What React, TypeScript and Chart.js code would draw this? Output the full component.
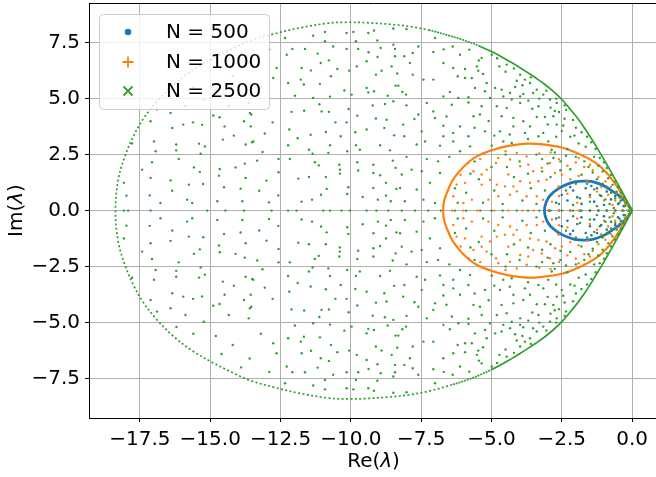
import React, { useEffect, useRef } from 'react';
import { Chart, registerables } from 'chart.js';
Chart.register(...registerables);

const FONT = '"DejaVu Sans", sans-serif';
const FS = 20;

const legendLabels = ['N = 500', 'N = 1000', 'N = 2500'];
const colors = ['#1f77b4', '#ff7f0e', '#2ca02c'];
const xTicks = [-17.5, -15.0, -12.5, -10.0, -7.5, -5.0, -2.5, 0.0];
const yTicks = [-7.5, -5.0, -2.5, 0.0, 2.5, 5.0, 7.5];
const xRange = [-19.31, 0.92];
const yRange = [-9.26, 9.27];

// boundary curves (upper half tip -> left, lower half left -> tip)
const greenEdgeUpper = [[0,0],[-0.15,0.36],[-0.31,0.74],[-0.48,1.12],[-0.66,1.53],[-0.9,2.06],[-1.14,2.58],[-1.43,3.18],[-1.73,3.76],[-2.0,4.22],[-2.25,4.6],[-2.5,4.96],[-2.8,5.32],[-3.1,5.63],[-3.4,5.9],[-3.7,6.15],[-4.0,6.39],[-4.3,6.62],[-4.6,6.84],[-5.0,7.1],[-5.4,7.33],[-5.76,7.51],[-6.1,7.66],[-6.47,7.8],[-7.19,8.05],[-7.9,8.22],[-8.61,8.32],[-9.44,8.39],[-10.15,8.41],[-10.8,8.37],[-11.81,8.16],[-12.76,7.88],[-13.59,7.58],[-14.18,7.25],[-14.89,6.8],[-15.61,6.28],[-16.32,5.6],[-16.91,4.85],[-17.38,4.1],[-17.74,3.3],[-18.04,2.4],[-18.27,1.4],[-18.37,0]];
const greenEdgeLower = [[-18.27,-1.4],[-18.04,-2.4],[-17.74,-3.3],[-17.38,-4.1],[-16.91,-4.85],[-16.32,-5.6],[-15.61,-6.28],[-14.89,-6.8],[-14.18,-7.25],[-13.59,-7.58],[-12.76,-7.88],[-11.81,-8.16],[-10.8,-8.37],[-10.15,-8.41],[-9.44,-8.39],[-8.61,-8.32],[-7.9,-8.22],[-7.19,-8.05],[-6.47,-7.8],[-6.1,-7.66],[-5.76,-7.51],[-5.4,-7.33],[-5.0,-7.1],[-4.6,-6.84],[-4.3,-6.62],[-4.0,-6.39],[-3.7,-6.15],[-3.4,-5.9],[-3.1,-5.63],[-2.8,-5.32],[-2.5,-4.96],[-2.25,-4.6],[-2.0,-4.22],[-1.73,-3.76],[-1.43,-3.18],[-1.14,-2.58],[-0.9,-2.06],[-0.66,-1.53],[-0.48,-1.12],[-0.31,-0.74],[-0.15,-0.36],[0,0]];
const orangeEdgeUpper = [[0,0],[-0.25,0.49],[-0.54,1.08],[-0.9,1.68],[-1.26,2.1],[-1.8,2.48],[-2.5,2.82],[-3.27,2.97],[-3.75,2.99],[-4.34,2.9],[-4.93,2.72],[-5.53,2.42],[-6.0,1.95],[-6.36,1.4],[-6.54,0.94],[-6.68,0.45],[-6.72,0]];
const orangeEdgeLower = [[-6.68,-0.45],[-6.54,-0.94],[-6.36,-1.4],[-6.0,-1.95],[-5.53,-2.42],[-4.93,-2.72],[-4.34,-2.9],[-3.75,-2.99],[-3.27,-2.97],[-2.5,-2.82],[-1.8,-2.48],[-1.26,-2.1],[-0.9,-1.68],[-0.54,-1.08],[-0.25,-0.49],[0,0]];
const blueEdgeUpper = [[0,0],[-0.25,0.42],[-0.5,0.7],[-0.72,0.88],[-0.9,1.04],[-1.14,1.18],[-1.45,1.3],[-1.73,1.32],[-2.05,1.28],[-2.32,1.17],[-2.62,0.98],[-2.9,0.7],[-3.05,0.4],[-3.12,0]];
const blueEdgeLower = [[-3.05,-0.4],[-2.9,-0.7],[-2.62,-0.98],[-2.32,-1.17],[-2.05,-1.28],[-1.73,-1.32],[-1.45,-1.3],[-1.14,-1.18],[-0.9,-1.04],[-0.72,-0.88],[-0.5,-0.7],[-0.25,-0.42],[0,0]];

// real eigenvalues (on the axis)
const greenReal = [-18.07,-17.92,-17.12,-15.11,-14.46,-13.8,-12.82,-12.23,-11.93,-10.98,-10.74,-10.33,-10.03,-9.44,-9.09,-8.67,-8.19,-7.72,-7.25,-6.8,-6.3,-5.9,-5.4,-5.0,-4.6,-4.1,-3.7,-3.3,-2.9,-2.5,-2.1,-1.8,-1.5,-1.2,-0.9,-0.6,-0.3,-0.1];
const orangeReal = [-6.4,-6.0,-5.5,-4.9,-4.4,-3.9,-3.5,-3.0,-2.6,-2.2,-1.9,-1.5,-1.2,-0.9,-0.6,-0.35,-0.15];
const blueReal = [-2.95,-2.6,-2.2,-1.85,-1.5,-1.2,-0.9,-0.6,-0.35,-0.15];

// interior eigenvalues, upper half
const greenInnerUpper = [[-16.89,4.51],[-16.41,4.36],[-17.12,3.99],[-16.35,3.69],[-15.96,3.84],[-15.61,3.94],[-15.29,3.83],[-14.89,4.25],[-14.67,4.17],[-14.49,3.76],[-13.54,4.29],[-13.8,3.99],[-13.56,3.76],[-17.78,3.0],[-17.0,3.09],[-16.21,2.95],[-15.4,2.99],[-15.19,2.86],[-14.55,3.17],[-14.16,3.35],[-13.74,2.95],[-13.51,3.05],[-16.94,2.65],[-16.21,2.69],[-15.34,2.54],[-17.42,1.83],[-17.07,2.16],[-16.12,2.31],[-15.58,1.93],[-15.37,1.73],[-14.66,1.86],[-14.69,1.56],[-14.51,1.04],[-14.1,1.93],[-13.77,2.1],[-13.74,1.46],[-18.07,1.24],[-17.12,1.46],[-16.41,1.35],[-15.76,1.16],[-15.25,1.19],[-16.35,0.89],[-17.98,0.67],[-17.15,0.68],[-16.77,0.34],[-15.82,0.49],[-15.64,0.34],[-14.75,0.42],[-13.86,0.42],[-13.92,0.98],[-15.88,4.66],[-15.23,4.96],[-14.34,4.66],[-13.63,4.81],[-14.2,6.0],[-13.6,6.6],[-14.8,5.6],[-13.2,5.5],[-12.9,7.2],[-15.6,5.5],[-16.2,5.2],[-13.9,7.0],[-14.6,6.4],
[-12.34,7.71],[-11.34,7.81],[-10.92,7.98],[-10.92,7.56],[-10.15,7.93],[-9.91,7.98],[-9.82,7.56],[-9.38,7.93],[-9.18,8.04],[-9.06,7.6],[-8.49,8.13],[-8.49,7.41],[-8.02,8.11],[-12.08,7.22],[-11.63,7.22],[-11.18,7.01],[-10.63,7.33],[-10.15,7.22],[-9.74,7.22],[-9.37,7.07],[-8.94,7.26],[-8.43,7.22],[-8.1,6.89],[-7.8,7.04],[-12.28,6.96],[-11.07,6.59],[-10.78,6.71],[-10.06,6.25],[-9.79,6.44],[-9.44,6.67],[-9.05,6.86],[-8.43,6.89],[-12.64,6.37],[-11.75,6.37],[-11.42,6.26],[-10.48,6.32],[-10.71,6.0],[-12.76,5.92],[-12.23,5.7],[-11.78,5.85],[-11.67,5.63],[-11.1,5.66],[-10.23,5.36],[-9.44,5.48],[-9.11,6.07],[-8.91,6.25],[-8.55,6.44],[-8.35,6.12],[-7.8,6.07],[-8.41,5.58],[-8.31,5.58],[-8.17,5.3],[-11.99,5.13],[-11.34,5.03],[-10.74,5.09],[-9.97,5.18],[-9.38,5.28],[-9.18,5.33],[-8.69,5.13],[-8.04,5.18],[-13.59,4.36],[-12.78,3.94],[-12.11,4.41],[-11.66,4.46],[-11.12,4.75],[-11.04,4.43],[-10.78,4.41],[-10.08,4.54],[-10.55,3.94],[-10.15,3.94],[-9.77,4.24],[-9.22,4.69],[-8.79,4.76],[-8.49,4.88],[-8.02,4.7],[-9.11,4.11],[-8.73,4.06],[-8.14,3.84],[-7.74,4.09],[-12.19,3.62],[-11.89,3.23],[-11.43,3.39],[-10.89,3.51],[-10.36,3.32],[-9.84,3.5],[-9.44,3.62],[-8.81,3.69],[-8.46,3.36],[-8.1,3.32],[-13.06,3.44],[-13.47,3.09],[-13.14,2.62],[-12.23,2.92],[-11.49,2.72],[-11.36,2.54],[-10.74,2.92],[-10.8,2.58],[-10.13,2.65],[-9.82,2.92],[-9.68,2.72],[-8.96,2.92],[-8.61,2.69],[-12.57,2.31],[-12.17,2.31],[-11.28,2.16],[-11.14,2.02],[-10.41,2.05],[-10.39,1.83],[-9.77,2.16],[-9.2,2.05],[-8.51,2.23],[-8.02,2.4],[-13.33,2.23],[-12.57,1.71],[-13.0,1.34],[-11.87,1.43],[-11.49,1.5],[-10.89,1.5],[-10.39,1.65],[-10.09,1.04],[-10.13,0.74],[-9.74,1.79],[-9.2,1.68],[-8.96,1.58],[-8.75,1.24],[-8.41,1.91],[-8.19,1.61],[-8.38,0.97],[-13.26,0.89],[-12.58,0.68],[-11.75,0.4],[-11.38,0.49],[-10.86,0.97],[-11.06,0.71],[-9.58,0.61],[-9.2,1.01],[-9.04,0.49],[-8.75,0.67],[-8.25,1.01],[-8.08,0.42],[-12.91,0.37],[-8.58,0.42],
[-7.01,7.71],[-7.6,7.33],[-7.07,7.08],[-6.38,7.33],[-6.12,6.96],[-5.79,7.19],[-5.52,6.44],[-5.35,6.82],[-4.99,6.96],[-6.71,6.59],[-6.36,6.37],[-5.94,6.32],[-5.47,6.25],[-4.72,6.44],[-4.46,6.52],[-3.98,6.07],[-3.81,5.85],[-3.63,5.7],[-3.39,5.4],[-3.16,5.18],[-7.9,6.59],[-7.42,5.85],[-7.07,5.85],[-6.48,5.3],[-5.94,5.92],[-5.7,5.92],[-5.17,5.7],[-5.59,5.48],[-5.23,5.33],[-4.87,5.48],[-4.64,5.4],[-4.34,5.25],[-4.16,5.52],[-3.87,5.21],[-3.52,5.25],[-6.71,5.1],[-6.18,5.03],[-5.82,5.06],[-5.05,5.03],[-4.58,5.1],[-4.28,4.96],[-3.98,5.1],[-3.69,4.91],[-2.92,4.96],[-2.68,4.81],[-7.3,4.81],[-7.07,4.43],[-6.41,4.73],[-5.82,4.83],[-5.35,4.66],[-4.81,4.66],[-4.46,4.58],[-3.98,4.81],[-3.33,4.66],[-7.6,4.29],[-7.01,4.14],[-6.71,3.79],[-6.12,3.76],[-5.64,4.21],[-5.41,4.29],[-4.64,4.21],[-4.22,4.14],[-3.87,3.99],[-3.63,3.76],[-3.39,4.18],[-3.1,4.18],[-2.8,4.21],[-2.68,3.84],[-7.48,3.54],[-7.36,3.09],[-6.71,3.32],[-6.36,3.47],[-5.82,3.32],[-5.23,3.54],[-4.7,3.54],[-4.22,3.76],[-3.81,3.47],[-3.33,3.32],[-3.16,3.47],[-2.98,3.09],[-7.66,2.95],[-6.83,2.9],[-6.36,3.09],[-6.12,2.65],[-5.76,2.87],[-4.99,2.9],[-4.58,3.09],[-4.28,3.02],[-2.86,2.72],[-7.84,1.83],[-7.48,1.76],[-7.66,0.94],[-7.19,1.24],[-7.42,0.49],[-7.01,0.34],[-6.83,1.68],[-7.3,2.3],
[-5.6,2.2],[-5.0,1.95],[-4.5,2.5],[-4.0,2.2],[-3.4,2.5],[-4.9,0.9],[-4.2,1.5],[-3.6,1.0],[-3.2,1.75],[-5.9,0.8],[-6.2,0.35],[-5.3,0.35],[-4.6,0.3],[-3.9,0.45],[-3.1,0.9],[-2.8,2.35],[-5.45,1.4],[-6.3,1.0],[-4.45,1.95],[-3.7,1.65],[-2.9,1.5],[-2.6,0.3],[-3.4,0.3],[-5.75,1.65],
[-2.35,4.5],[-2.1,4.05],[-2.0,3.7],[-1.8,3.5],[-1.6,3.3],[-1.45,3.05],[-1.3,2.75],[-1.15,2.35],[-1.0,2.15],[-0.9,1.9],[-0.75,1.6],[-0.6,1.3],[-0.5,1.05],[-0.4,0.8],[-0.3,0.55],[-0.2,0.35],[-0.1,0.15],[-2.6,4.4],[-2.2,3.3],[-1.9,3.0],[-1.65,2.85],[-1.35,2.4],[-1.2,2.0],[-1.05,1.75],[-0.85,1.45],[-0.7,1.15],[-0.55,0.85],[-0.45,0.6],[-0.25,0.2],[-2.9,4.6],[-2.45,3.8],[-2.7,3.3],[-2.3,2.75],[-2.0,2.4],[-1.7,2.2],[-1.55,1.95],[-1.4,1.7],[-1.25,1.4],[-1.05,1.2],[-0.9,1.0],[-0.75,0.8],[-0.6,0.55],[-0.45,0.35],[-1.8,1.6],[-1.6,1.2],[-1.35,0.95],[-1.15,0.7],[-0.95,0.5],[-0.8,0.3],[-2.2,1.85],[-2.0,1.2],[-1.85,0.55],[-2.35,0.9],[-1.5,0.4],[-1.25,0.2],[-2.55,1.8],[-2.1,0.25],[-0.65,0.12],[-3.0,2.1],[-2.75,2.6],[-2.55,2.2],
[-4.8,6.8],[-4.2,6.35],[-3.6,5.95],[-3.05,5.35],[-2.7,5.0],[-2.4,4.7],[-4.5,6.2],[-3.9,5.6],[-3.3,5.0],[-2.75,4.45],[-3.55,4.55],[-3.0,3.85],[-2.5,3.55],[-2.35,2.45],[-3.2,2.3],[-5.45,6.7],[-6.7,7.2],[-6.2,6.0],[-5.3,6.1],[-4.1,5.8],[-6.6,4.2],[-5.1,4.0],[-4.9,3.35],[-5.6,3.7],[-6.5,2.4],[-6.9,2.2],[-4.35,3.4],[-3.7,3.2],[-2.4,4.1],[-2.05,3.35]];

// interior eigenvalues, lower half
const greenInnerLower = [[-16.89,-4.51],[-16.41,-4.36],[-17.12,-3.99],[-16.35,-3.69],[-15.96,-3.84],[-15.61,-3.94],[-15.29,-3.83],[-14.89,-4.25],[-14.67,-4.17],[-14.49,-3.76],[-13.54,-4.29],[-13.8,-3.99],[-13.56,-3.76],[-17.78,-3.0],[-17.0,-3.09],[-16.21,-2.95],[-15.4,-2.99],[-15.19,-2.86],[-14.55,-3.17],[-14.16,-3.35],[-13.74,-2.95],[-13.51,-3.05],[-16.94,-2.65],[-16.21,-2.69],[-15.34,-2.54],[-17.42,-1.83],[-17.07,-2.16],[-16.12,-2.31],[-15.58,-1.93],[-15.37,-1.73],[-14.66,-1.86],[-14.69,-1.56],[-14.51,-1.04],[-14.1,-1.93],[-13.77,-2.1],[-13.74,-1.46],[-18.07,-1.24],[-17.12,-1.46],[-16.41,-1.35],[-15.76,-1.16],[-15.25,-1.19],[-16.35,-0.89],[-17.98,-0.67],[-17.15,-0.68],[-16.77,-0.34],[-15.82,-0.49],[-15.64,-0.34],[-14.75,-0.42],[-13.86,-0.42],[-13.92,-0.98],[-15.88,-4.66],[-15.23,-4.96],[-14.34,-4.66],[-13.63,-4.81],[-14.2,-6.0],[-13.6,-6.6],[-14.8,-5.6],[-13.2,-5.5],[-12.9,-7.2],[-15.6,-5.5],[-16.2,-5.2],[-13.9,-7.0],[-14.6,-6.4],
[-12.34,-7.71],[-11.34,-7.81],[-10.92,-7.98],[-10.92,-7.56],[-10.15,-7.93],[-9.91,-7.98],[-9.82,-7.56],[-9.38,-7.93],[-9.18,-8.04],[-9.06,-7.6],[-8.49,-8.13],[-8.49,-7.41],[-8.02,-8.11],[-12.08,-7.22],[-11.63,-7.22],[-11.18,-7.01],[-10.63,-7.33],[-10.15,-7.22],[-9.74,-7.22],[-9.37,-7.07],[-8.94,-7.26],[-8.43,-7.22],[-8.1,-6.89],[-7.8,-7.04],[-12.28,-6.96],[-11.07,-6.59],[-10.78,-6.71],[-10.06,-6.25],[-9.79,-6.44],[-9.44,-6.67],[-9.05,-6.86],[-8.43,-6.89],[-12.64,-6.37],[-11.75,-6.37],[-11.42,-6.26],[-10.48,-6.32],[-10.71,-6.0],[-12.76,-5.92],[-12.23,-5.7],[-11.78,-5.85],[-11.67,-5.63],[-11.1,-5.66],[-10.23,-5.36],[-9.44,-5.48],[-9.11,-6.07],[-8.91,-6.25],[-8.55,-6.44],[-8.35,-6.12],[-7.8,-6.07],[-8.41,-5.58],[-8.31,-5.58],[-8.17,-5.3],[-11.99,-5.13],[-11.34,-5.03],[-10.74,-5.09],[-9.97,-5.18],[-9.38,-5.28],[-9.18,-5.33],[-8.69,-5.13],[-8.04,-5.18],[-13.59,-4.36],[-12.78,-3.94],[-12.11,-4.41],[-11.66,-4.46],[-11.12,-4.75],[-11.04,-4.43],[-10.78,-4.41],[-10.08,-4.54],[-10.55,-3.94],[-10.15,-3.94],[-9.77,-4.24],[-9.22,-4.69],[-8.79,-4.76],[-8.49,-4.88],[-8.02,-4.7],[-9.11,-4.11],[-8.73,-4.06],[-8.14,-3.84],[-7.74,-4.09],[-12.19,-3.62],[-11.89,-3.23],[-11.43,-3.39],[-10.89,-3.51],[-10.36,-3.32],[-9.84,-3.5],[-9.44,-3.62],[-8.81,-3.69],[-8.46,-3.36],[-8.1,-3.32],[-13.06,-3.44],[-13.47,-3.09],[-13.14,-2.62],[-12.23,-2.92],[-11.49,-2.72],[-11.36,-2.54],[-10.74,-2.92],[-10.8,-2.58],[-10.13,-2.65],[-9.82,-2.92],[-9.68,-2.72],[-8.96,-2.92],[-8.61,-2.69],[-12.57,-2.31],[-12.17,-2.31],[-11.28,-2.16],[-11.14,-2.02],[-10.41,-2.05],[-10.39,-1.83],[-9.77,-2.16],[-9.2,-2.05],[-8.51,-2.23],[-8.02,-2.4],[-13.33,-2.23],[-12.57,-1.71],[-13.0,-1.34],[-11.87,-1.43],[-11.49,-1.5],[-10.89,-1.5],[-10.39,-1.65],[-10.09,-1.04],[-10.13,-0.74],[-9.74,-1.79],[-9.2,-1.68],[-8.96,-1.58],[-8.75,-1.24],[-8.41,-1.91],[-8.19,-1.61],[-8.38,-0.97],[-13.26,-0.89],[-12.58,-0.68],[-11.75,-0.4],[-11.38,-0.49],[-10.86,-0.97],[-11.06,-0.71],[-9.58,-0.61],[-9.2,-1.01],[-9.04,-0.49],[-8.75,-0.67],[-8.25,-1.01],[-8.08,-0.42],[-12.91,-0.37],[-8.58,-0.42],
[-7.01,-7.71],[-7.6,-7.33],[-7.07,-7.08],[-6.38,-7.33],[-6.12,-6.96],[-5.79,-7.19],[-5.52,-6.44],[-5.35,-6.82],[-4.99,-6.96],[-6.71,-6.59],[-6.36,-6.37],[-5.94,-6.32],[-5.47,-6.25],[-4.72,-6.44],[-4.46,-6.52],[-3.98,-6.07],[-3.81,-5.85],[-3.63,-5.7],[-3.39,-5.4],[-3.16,-5.18],[-7.9,-6.59],[-7.42,-5.85],[-7.07,-5.85],[-6.48,-5.3],[-5.94,-5.92],[-5.7,-5.92],[-5.17,-5.7],[-5.59,-5.48],[-5.23,-5.33],[-4.87,-5.48],[-4.64,-5.4],[-4.34,-5.25],[-4.16,-5.52],[-3.87,-5.21],[-3.52,-5.25],[-6.71,-5.1],[-6.18,-5.03],[-5.82,-5.06],[-5.05,-5.03],[-4.58,-5.1],[-4.28,-4.96],[-3.98,-5.1],[-3.69,-4.91],[-2.92,-4.96],[-2.68,-4.81],[-7.3,-4.81],[-7.07,-4.43],[-6.41,-4.73],[-5.82,-4.83],[-5.35,-4.66],[-4.81,-4.66],[-4.46,-4.58],[-3.98,-4.81],[-3.33,-4.66],[-7.6,-4.29],[-7.01,-4.14],[-6.71,-3.79],[-6.12,-3.76],[-5.64,-4.21],[-5.41,-4.29],[-4.64,-4.21],[-4.22,-4.14],[-3.87,-3.99],[-3.63,-3.76],[-3.39,-4.18],[-3.1,-4.18],[-2.8,-4.21],[-2.68,-3.84],[-7.48,-3.54],[-7.36,-3.09],[-6.71,-3.32],[-6.36,-3.47],[-5.82,-3.32],[-5.23,-3.54],[-4.7,-3.54],[-4.22,-3.76],[-3.81,-3.47],[-3.33,-3.32],[-3.16,-3.47],[-2.98,-3.09],[-7.66,-2.95],[-6.83,-2.9],[-6.36,-3.09],[-6.12,-2.65],[-5.76,-2.87],[-4.99,-2.9],[-4.58,-3.09],[-4.28,-3.02],[-2.86,-2.72],[-7.84,-1.83],[-7.48,-1.76],[-7.66,-0.94],[-7.19,-1.24],[-7.42,-0.49],[-7.01,-0.34],[-6.83,-1.68],[-7.3,-2.3],
[-5.6,-2.2],[-5.0,-1.95],[-4.5,-2.5],[-4.0,-2.2],[-3.4,-2.5],[-4.9,-0.9],[-4.2,-1.5],[-3.6,-1.0],[-3.2,-1.75],[-5.9,-0.8],[-6.2,-0.35],[-5.3,-0.35],[-4.6,-0.3],[-3.9,-0.45],[-3.1,-0.9],[-2.8,-2.35],[-5.45,-1.4],[-6.3,-1.0],[-4.45,-1.95],[-3.7,-1.65],[-2.9,-1.5],[-2.6,-0.3],[-3.4,-0.3],[-5.75,-1.65],
[-2.35,-4.5],[-2.1,-4.05],[-2.0,-3.7],[-1.8,-3.5],[-1.6,-3.3],[-1.45,-3.05],[-1.3,-2.75],[-1.15,-2.35],[-1.0,-2.15],[-0.9,-1.9],[-0.75,-1.6],[-0.6,-1.3],[-0.5,-1.05],[-0.4,-0.8],[-0.3,-0.55],[-0.2,-0.35],[-0.1,-0.15],[-2.6,-4.4],[-2.2,-3.3],[-1.9,-3.0],[-1.65,-2.85],[-1.35,-2.4],[-1.2,-2.0],[-1.05,-1.75],[-0.85,-1.45],[-0.7,-1.15],[-0.55,-0.85],[-0.45,-0.6],[-0.25,-0.2],[-2.9,-4.6],[-2.45,-3.8],[-2.7,-3.3],[-2.3,-2.75],[-2.0,-2.4],[-1.7,-2.2],[-1.55,-1.95],[-1.4,-1.7],[-1.25,-1.4],[-1.05,-1.2],[-0.9,-1.0],[-0.75,-0.8],[-0.6,-0.55],[-0.45,-0.35],[-1.8,-1.6],[-1.6,-1.2],[-1.35,-0.95],[-1.15,-0.7],[-0.95,-0.5],[-0.8,-0.3],[-2.2,-1.85],[-2.0,-1.2],[-1.85,-0.55],[-2.35,-0.9],[-1.5,-0.4],[-1.25,-0.2],[-2.55,-1.8],[-2.1,-0.25],[-0.65,-0.12],[-3.0,-2.1],[-2.75,-2.6],[-2.55,-2.2],
[-4.8,-6.8],[-4.2,-6.35],[-3.6,-5.95],[-3.05,-5.35],[-2.7,-5.0],[-2.4,-4.7],[-4.5,-6.2],[-3.9,-5.6],[-3.3,-5.0],[-2.75,-4.45],[-3.55,-4.55],[-3.0,-3.85],[-2.5,-3.55],[-2.35,-2.45],[-3.2,-2.3],[-5.45,-6.7],[-6.7,-7.2],[-6.2,-6.0],[-5.3,-6.1],[-4.1,-5.8],[-6.6,-4.2],[-5.1,-4.0],[-4.9,-3.35],[-5.6,-3.7],[-6.5,-2.4],[-6.9,-2.2],[-4.35,-3.4],[-3.7,-3.2],[-2.4,-4.1],[-2.05,-3.35]];

const orangeInnerUpper = [[-5.82,2.13],[-5.64,1.76],[-5.35,1.61],[-5.17,1.83],[-4.84,2.13],[-4.76,2.35],[-4.34,2.28],[-4.1,2.58],[-3.75,2.42],[-4.4,1.61],[-3.98,1.98],[-3.69,2.05],[-3.52,1.76],[-3.21,1.91],[-2.92,2.13],[-6.24,1.16],[-5.94,1.24],[-5.35,1.16],[-5.05,1.38],[-4.81,1.16],[-4.52,1.08],[-4.22,1.08],[-3.98,1.31],[-3.63,1.24],[-3.33,1.31],[-3.04,1.38],[-6.36,0.64],[-6.0,0.34],[-5.7,0.49],[-5.11,0.49],[-4.76,0.64],[-4.34,0.71],[-4.1,0.86],[-3.75,0.64],[-3.39,0.64],[-3.16,0.49],[-2.74,1.68],[-2.62,1.08],[-2.6,2.3],[-2.3,2.0],[-2.0,2.15],[-1.7,1.95],[-1.4,1.8],[-1.2,1.5],[-0.95,1.3],[-0.75,1.05],[-0.55,0.8],[-0.4,0.55],[-0.25,0.3],[-2.5,1.6],[-2.2,1.4],[-1.9,1.55],[-1.6,1.35],[-1.1,1.05],[-0.85,0.7],[-0.6,0.45],[-2.3,0.75],[-1.95,0.35],[-1.5,0.6],[-1.25,0.85],[-1.0,0.45],[-0.7,0.25],[-2.85,0.4],[-2.6,0.65],[-6.1,1.6],[-5.4,2.3],[-4.5,2.65],[-3.3,2.55],[-2.9,2.6],[-1.9,2.35],[-1.5,2.05]];
const orangeInnerLower = [[-5.82,-2.13],[-5.64,-1.76],[-5.35,-1.61],[-5.17,-1.83],[-4.84,-2.13],[-4.76,-2.35],[-4.34,-2.28],[-4.1,-2.58],[-3.75,-2.42],[-4.4,-1.61],[-3.98,-1.98],[-3.69,-2.05],[-3.52,-1.76],[-3.21,-1.91],[-2.92,-2.13],[-6.24,-1.16],[-5.94,-1.24],[-5.35,-1.16],[-5.05,-1.38],[-4.81,-1.16],[-4.52,-1.08],[-4.22,-1.08],[-3.98,-1.31],[-3.63,-1.24],[-3.33,-1.31],[-3.04,-1.38],[-6.36,-0.64],[-6.0,-0.34],[-5.7,-0.49],[-5.11,-0.49],[-4.76,-0.64],[-4.34,-0.71],[-4.1,-0.86],[-3.75,-0.64],[-3.39,-0.64],[-3.16,-0.49],[-2.74,-1.68],[-2.62,-1.08],[-2.6,-2.3],[-2.3,-2.0],[-2.0,-2.15],[-1.7,-1.95],[-1.4,-1.8],[-1.2,-1.5],[-0.95,-1.3],[-0.75,-1.05],[-0.55,-0.8],[-0.4,-0.55],[-0.25,-0.3],[-2.5,-1.6],[-2.2,-1.4],[-1.9,-1.55],[-1.6,-1.35],[-1.1,-1.05],[-0.85,-0.7],[-0.6,-0.45],[-2.3,-0.75],[-1.95,-0.35],[-1.5,-0.6],[-1.25,-0.85],[-1.0,-0.45],[-0.7,-0.25],[-2.85,-0.4],[-2.6,-0.65],[-6.1,-1.6],[-5.4,-2.3],[-4.5,-2.65],[-3.3,-2.55],[-2.9,-2.6],[-1.9,-2.35],[-1.5,-2.05]];

const blueInnerUpper = [[-2.7,0.35],[-2.5,0.7],[-2.3,0.45],[-2.1,0.9],[-1.95,0.6],[-1.8,0.3],[-1.65,1.0],[-1.5,0.7],[-1.35,0.4],[-1.25,1.0],[-1.1,0.65],[-1.0,0.25],[-0.9,0.85],[-0.75,0.5],[-0.6,0.65],[-0.5,0.3],[-0.4,0.45],[-0.3,0.2],[-2.2,1.05],[-1.45,1.1]];
const blueInnerLower = [[-2.7,-0.35],[-2.5,-0.7],[-2.3,-0.45],[-2.1,-0.9],[-1.95,-0.6],[-1.8,-0.3],[-1.65,-1.0],[-1.5,-0.7],[-1.35,-0.4],[-1.25,-1.0],[-1.1,-0.65],[-1.0,-0.25],[-0.9,-0.85],[-0.75,-0.5],[-0.6,-0.65],[-0.5,-0.3],[-0.4,-0.45],[-0.3,-0.2],[-2.2,-1.05],[-1.45,-1.1]];

const fmt = (v: number) => (v < 0 ? '\u2212' : '') + Math.abs(v).toFixed(1);

export default function App() {
  const ref = useRef<HTMLCanvasElement>(null);
  useEffect(() => {
    const pts = (a: number[][]) => a.map(([x, y]) => ({ x, y }));
    const axisPts = (a: number[]) => a.map((x) => ({ x, y: 0 }));

    const edge = (data: any[], color: string, width: number, order: number, dashed: boolean, tension: number) => ({
      type: 'scatter' as const,
      data,
      showLine: true,
      borderColor: color,
      borderWidth: width,
      pointRadius: 0,
      tension,
      order,
      segment: dashed
        ? {
            borderDash: (ctx: any) =>
              ctx.p0.parsed.x < -6.8 ? [2, 2.4] : ctx.p0.parsed.x < -5.2 ? [2, 0.9] : undefined,
          }
        : undefined,
    });
    const dots = (data: any[], color: string, order: number, r = 1.2) => ({
      type: 'scatter' as const,
      data,
      showLine: false,
      pointRadius: r,
      pointBorderWidth: 0,
      pointBackgroundColor: color,
      backgroundColor: color,
      borderColor: color,
      pointHoverRadius: 0,
      order,
    });

    const spinesAndText = {
      id: 'spinesAndText',
      afterDraw(chart: any) {
        const { ctx, chartArea: a } = chart;
        ctx.save();
        ctx.strokeStyle = '#000';
        ctx.lineWidth = 1;
        ctx.beginPath();
        ctx.moveTo(a.left, Math.floor(a.top) + 0.5);
        ctx.lineTo(a.right, Math.floor(a.top) + 0.5);
        ctx.stroke();

        // legend
        const bx = 99.5, by = 14.5, bw = 170, bh = 95, r = 4;
        ctx.beginPath();
        ctx.moveTo(bx + r, by);
        ctx.lineTo(bx + bw - r, by);
        ctx.quadraticCurveTo(bx + bw, by, bx + bw, by + r);
        ctx.lineTo(bx + bw, by + bh - r);
        ctx.quadraticCurveTo(bx + bw, by + bh, bx + bw - r, by + bh);
        ctx.lineTo(bx + r, by + bh);
        ctx.quadraticCurveTo(bx, by + bh, bx, by + bh - r);
        ctx.lineTo(bx, by + r);
        ctx.quadraticCurveTo(bx, by, bx + r, by);
        ctx.closePath();
        ctx.fillStyle = 'rgba(255,255,255,0.8)';
        ctx.fill();
        ctx.strokeStyle = '#cccccc';
        ctx.stroke();

        const rows = [32, 62, 91];
        const mx = 128;
        ctx.fillStyle = colors[0];
        ctx.beginPath();
        ctx.arc(mx, rows[0], 3.3, 0, Math.PI * 2);
        ctx.fill();
        ctx.strokeStyle = colors[1];
        ctx.lineWidth = 1.8;
        ctx.beginPath();
        ctx.moveTo(mx - 5.5, rows[1]);
        ctx.lineTo(mx + 5.5, rows[1]);
        ctx.moveTo(mx, rows[1] - 5.5);
        ctx.lineTo(mx, rows[1] + 5.5);
        ctx.stroke();
        ctx.strokeStyle = colors[2];
        ctx.beginPath();
        ctx.moveTo(mx - 4.5, rows[2] - 4.5);
        ctx.lineTo(mx + 4.5, rows[2] + 4.5);
        ctx.moveTo(mx - 4.5, rows[2] + 4.5);
        ctx.lineTo(mx + 4.5, rows[2] - 4.5);
        ctx.stroke();

        ctx.fillStyle = '#000';
        ctx.font = `${FS}px ${FONT}`;
        ctx.textBaseline = 'middle';
        ctx.textAlign = 'left';
        legendLabels.forEach((t, i) => ctx.fillText(t, 166, rows[i] + 1));

        const drawMixed = (pre: string, sym: string, post: string, cx: number, cy: number) => {
          const normal = `${FS}px ${FONT}`;
          const ital = `italic ${FS}px ${FONT}`;
          ctx.font = normal;
          const w1 = ctx.measureText(pre).width;
          const w3 = ctx.measureText(post).width;
          ctx.font = ital;
          const w2 = ctx.measureText(sym).width;
          let x = cx - (w1 + w2 + w3) / 2;
          ctx.textAlign = 'left';
          ctx.textBaseline = 'middle';
          ctx.font = normal;
          ctx.fillText(pre, x, cy);
          x += w1;
          ctx.font = ital;
          ctx.fillText(sym, x, cy);
          x += w2;
          ctx.font = normal;
          ctx.fillText(post, x, cy);
        };
        drawMixed('Re(', '\u03bb', ')', (a.left + a.right) / 2, 462);
        ctx.save();
        ctx.translate(17, (a.top + a.bottom) / 2);
        ctx.rotate(-Math.PI / 2);
        drawMixed('Im(', '\u03bb', ')', 0, 0);
        ctx.restore();
        ctx.restore();
      },
    };

    const chart = new Chart(ref.current as HTMLCanvasElement, {
      type: 'scatter',
      data: {
        datasets: [
          dots(pts(greenInnerUpper), colors[2], 0),
          dots(pts(greenInnerLower), colors[2], 0),
          dots(axisPts(greenReal), colors[2], 0),
          edge([...pts(greenEdgeUpper), ...pts(greenEdgeLower)], colors[2], 1.7, 0, true, 0.35),
          dots(pts(orangeInnerUpper), colors[1], 1),
          dots(pts(orangeInnerLower), colors[1], 1),
          dots(axisPts(orangeReal), colors[1], 1),
          edge([...pts(orangeEdgeUpper), ...pts(orangeEdgeLower)], colors[1], 2.2, 1, false, 0.3),
          dots(pts(blueInnerUpper), colors[0], 2, 1.3),
          dots(pts(blueInnerLower), colors[0], 2, 1.3),
          dots(axisPts(blueReal), colors[0], 2, 1.3),
          edge([...pts(blueEdgeUpper), ...pts(blueEdgeLower)], colors[0], 2.8, 2, false, 0.3),
        ] as any,
      },
      options: {
        responsive: false,
        animation: false,
        events: [],
        layout: { padding: { left: 0, top: 3, right: 4, bottom: 0 } },
        plugins: { legend: { display: false }, tooltip: { enabled: false } },
        scales: {
          x: {
            type: 'linear',
            min: xRange[0],
            max: xRange[1],
            afterBuildTicks: (s: any) => {
              s.ticks = xTicks.map((v) => ({ value: v }));
            },
            afterFit: (s: any) => {
              s.height = 59;
              s.paddingLeft = 0;
              s.paddingRight = 0;
            },
            ticks: {
              callback: (v: any) => fmt(Number(v)),
              color: '#000',
              font: { family: FONT, size: FS },
              padding: 6,
              maxRotation: 0,
              autoSkip: false,
            },
            grid: { color: '#b0b0b0', lineWidth: 1, tickLength: 4, tickColor: '#000', tickWidth: 1 },
            border: { display: true, color: '#000', width: 1 },
          },
          y: {
            type: 'linear',
            min: yRange[0],
            max: yRange[1],
            afterBuildTicks: (s: any) => {
              s.ticks = yTicks.map((v) => ({ value: v }));
            },
            afterFit: (s: any) => {
              s.width = 89;
              s.paddingTop = 0;
              s.paddingBottom = 0;
            },
            ticks: {
              callback: (v: any) => fmt(Number(v)),
              color: '#000',
              font: { family: FONT, size: FS },
              padding: 5,
              autoSkip: false,
            },
            grid: { color: '#b0b0b0', lineWidth: 1, tickLength: 4, tickColor: '#000', tickWidth: 1 },
            border: { display: true, color: '#000', width: 1 },
          },
        },
      },
      plugins: [spinesAndText],
    });
    return () => chart.destroy();
  }, []);

  return (
    <div style={{ position: 'fixed', left: 0, top: 0, width: 656, height: 477, overflow: 'hidden', background: '#fff' }}>
      <canvas ref={ref} width={662} height={477} style={{ display: 'block' }} />
    </div>
  );
}
